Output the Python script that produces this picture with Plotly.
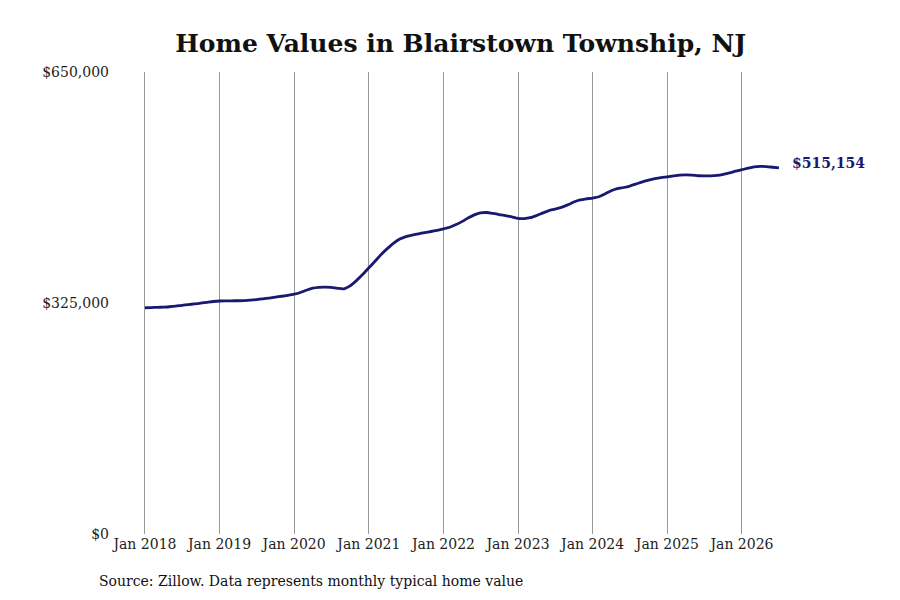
import plotly.graph_objects as go
import pandas as pd

# monthly typical home value, Jan 2018 .. Jul 2026
start_month = '2018-01-01'
values_2018 = [318300, 318600, 318900, 319200, 319700, 320600, 321800, 322800, 323700, 324800, 326000, 327100]
values_2019 = [327800, 328000, 328100, 328200, 328400, 329000, 329900, 330900, 332000, 333300, 334500, 335800]
values_2020 = [337400, 339800, 343000, 345800, 347100, 347400, 346900, 345600, 345000, 349000, 356500, 365000]
values_2021 = [374500, 384000, 393000, 401500, 409000, 415000, 418500, 420500, 422300, 424000, 425600, 427300]
values_2022 = [429200, 431500, 435000, 439500, 444500, 449000, 451800, 452300, 451000, 449500, 448000, 446200]
values_2023 = [444000, 443800, 445000, 448000, 451500, 455000, 457000, 459500, 463000, 467000, 470000, 471500]
values_2024 = [472700, 474500, 478500, 483000, 486000, 487500, 489500, 492500, 495500, 498000, 500000, 501500]
values_2025 = [502500, 503800, 505000, 505300, 505000, 504000, 503800, 503800, 504500, 506000, 508000, 510500]
values_2026 = [512500, 514800, 516500, 517200, 517000, 516000, 515154]

y_ticks = [0, 325000, 650000]
y_tick_text = ['$0', '$325,000', '$650,000']
x_ticks = pd.date_range('2018-01-01', '2026-01-01', freq='YS')
x_tick_text = [f'Jan {d.year}' for d in x_ticks]

values = (values_2018 + values_2019 + values_2020 + values_2021 + values_2022
          + values_2023 + values_2024 + values_2025 + values_2026)
dates = pd.date_range(start_month, periods=len(values), freq='MS')

line_colour = '#191970'
serif = 'DejaVu Serif'

fig = go.Figure(data=go.Scatter(x=dates, y=values, mode='lines',
                                line=dict(color=line_colour, width=2.8, shape='spline', smoothing=0.6),
                                hoverinfo='x+y'))

fig.add_annotation(x=dates[-1], y=values[-1], text=f'<b>${values[-1]:,}</b>',
                   showarrow=False, xanchor='left', yanchor='middle',
                   xshift=11, yshift=5,
                   font=dict(family=serif, size=14, color=line_colour))

fig.add_annotation(xref='paper', yref='paper', x=-0.019, y=-0.102,
                   xanchor='left', yanchor='middle', showarrow=False,
                   text='Source: Zillow. Data represents monthly typical home value',
                   font=dict(family=serif, size=14, color='#111'))

fig.update_layout({
    'plot_bgcolor': 'white',
    'paper_bgcolor': 'white',
})
# page body adds ~8px offset, so margins are pulled in to compensate
fig.update_layout(
    width=900, height=600,
    margin=dict(l=102, r=118, t=64, b=74),
    showlegend=False,
    title=dict(text='<b>Home Values in Blairstown Township, NJ</b>',
               x=0.503, xanchor='center', y=0.942, yanchor='middle',
               font=dict(family=serif, size=25, color='#111')),
    font=dict(family=serif, size=14, color='#222'),
)
fig.update_xaxes(range=['2017-07-14', '2026-08-24'],
                 tickvals=x_ticks, ticktext=x_tick_text,
                 showgrid=True, gridwidth=1, gridcolor='#999',
                 showline=False, zeroline=False, ticks='')
fig.update_yaxes(range=[0, 650000], tickvals=y_ticks, ticktext=y_tick_text,
                 showgrid=False, zeroline=False, showline=False, ticks='')

fig.write_html('out.html')
